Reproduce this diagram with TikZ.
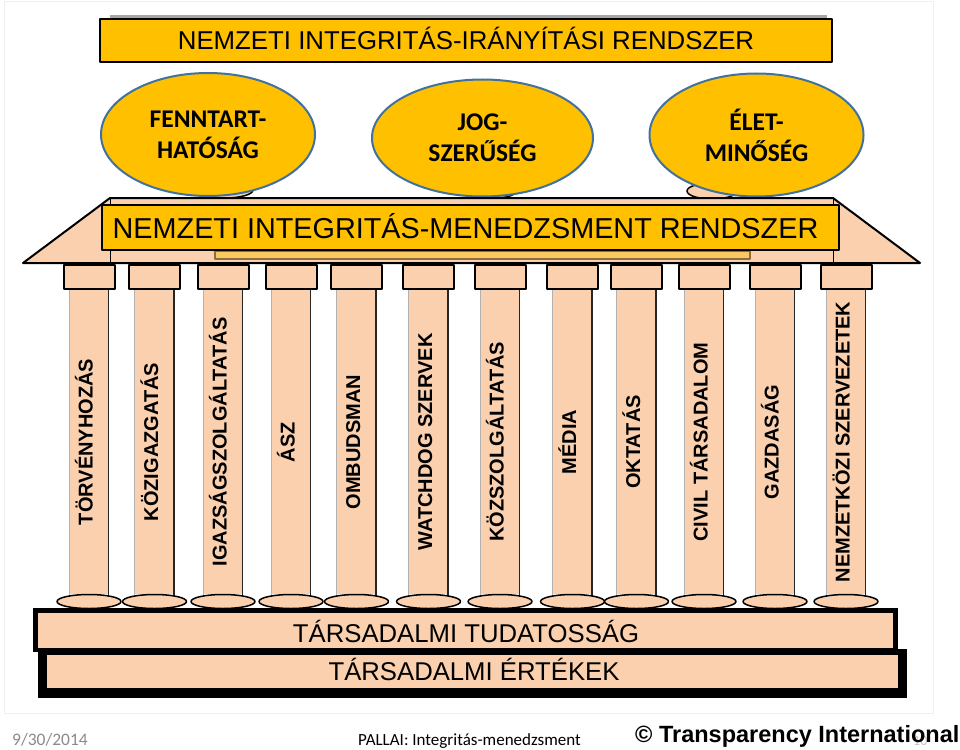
\documentclass[tikz,border=0pt]{standalone}
\usepackage{fontspec}
\setmainfont{Liberation Sans}
\newfontfamily\calibri{Carlito}
\usetikzlibrary{shapes.geometric}
\definecolor{gold}{HTML}{FFC000}
\definecolor{peach}{HTML}{FAD0AE}
\definecolor{ovalline}{HTML}{41719C}
\definecolor{framebrown}{HTML}{8C6D3F}
\definecolor{footgray}{HTML}{8A8A8A}
\tikzset{
  bannerbox/.style={draw=black, line width=2.5pt, fill=gold, inner sep=0pt},
  bannertext/.style={anchor=base, inner sep=0pt},
  ovalbox/.style={ellipse, draw=ovalline, line width=2pt, fill=gold, inner sep=0pt,
    minimum width=214pt, minimum height=123pt, align=center,
    font=\calibri\bfseries\fontsize{25.5}{31}\selectfont},
  ovalshadow/.style={fill=peach, draw=black, line width=1.5pt},
  capbox/.style={draw=black, line width=2pt, fill=peach, minimum width=51pt, minimum height=24pt, inner sep=0pt},
  shaftbox/.style={fill=peach, minimum width=39pt, minimum height=304pt, inner sep=0pt},
  basebox/.style={ellipse, draw=black, line width=1.5pt, fill=peach, minimum width=64pt, minimum height=14pt, inner sep=0pt},
  pillarlabel/.style={rotate=90, anchor=base, inner sep=0pt,
    font=\bfseries\fontsize{20}{24}\selectfont},
  plinth/.style={fill=peach, inner sep=0pt},
  plinthtext/.style={anchor=base, inner sep=0pt, font=\fontsize{25.7}{30}\selectfont},
}
\begin{document}
\begin{tikzpicture}[x=1pt, y=-1pt, line join=round]
\useasboundingbox (0,0) rectangle (960,749);
\draw[gray!12, line width=1pt] (4,2) rectangle (933,713);
% top banner
\fill[gray!70] (110,15) rectangle (827,55);
\node[bannerbox, minimum width=732pt, minimum height=43pt] (iranybox) at (466,40.5) {};
\node[bannertext, font=\fontsize{25.8}{30}\selectfont] (irany) at (466,50) {NEMZETI INTEGRITÁS-IRÁNYÍTÁSI RENDSZER};
% values
\fill[ovalshadow] (225,190) ellipse [x radius=28pt, y radius=8pt];
\fill[ovalshadow] (495,192) ellipse [x radius=20pt, y radius=6pt];
\fill[ovalshadow] (712,191) ellipse [x radius=25pt, y radius=8pt];
\node[ovalbox] (fenn) at (208,134.5) {FENNTART-\\HATÓSÁG};
\node[ovalbox, minimum width=221pt, minimum height=117pt] (jog) at (482.5,138) {JOG-\\SZERŰSÉG};
\node[ovalbox] (elet) at (756.5,135) {ÉLET-\\MINŐSÉG};
% roof
\draw[fill=peach, line width=2pt] (23,263) -- (110,198) -- (833,198) -- (920,263) -- cycle;
\draw[line width=1pt] (110,198) rectangle (833,263);
\draw[framebrown, line width=1.5pt, fill=gold!45!peach] (215,251) rectangle (750,259);
\node[bannerbox, minimum width=737pt, minimum height=45pt] (mgmtbox) at (470.5,227.5) {};
\node[bannertext, font=\fontsize{28.8}{34}\selectfont] (mgmt) at (465.5,238) {NEMZETI INTEGRITÁS-MENEDZSMENT RENDSZER};
% pillars
\foreach \cx/\txt [count=\i] in {89/TÖRVÉNYHOZÁS, 154.5/KÖZIGAZGATÁS, 223/IGAZSÁGSZOLGÁLTATÁS,
    291/ÁSZ, 356.5/OMBUDSMAN, 428.5/WATCHDOG SZERVEK, 500/KÖZSZOLGÁLTATÁS, 572.5/MÉDIA,
    636.5/OKTATÁS, 704/CIVIL TÁRSADALOM, 775/GAZDASÁG, 846/NEMZETKÖZI SZERVEZETEK}{
  \node[shaftbox] (shaft\i) at (\cx,442) {};
  \draw[gray!60, line width=0.8pt] (shaft\i.north west) -- ([yshift=-2pt]shaft\i.south west);
  \draw[black!85, line width=1.5pt] (shaft\i.north east) -- ([yshift=-2pt]shaft\i.south east);
  \node[capbox] (cap\i) at (\cx,277) {};
  \node[basebox] (base\i) at (\cx,601.5) {};
  \node[pillarlabel] (lab\i) at (\cx+3.7,442) {\txt};
}
% foundation
\fill[black] (33,608) rectangle (898,652);
\fill[black] (38,649) rectangle (907,698);
\node[plinth, minimum width=855pt, minimum height=35pt] (tudat) at (465.5,630.5) {};
\node[plinthtext] (tudattext) at (466,642) {TÁRSADALMI TUDATOSSÁG};
\node[plinth, minimum width=851pt, minimum height=33pt] (ertek) at (472.5,671.5) {};
\node[plinthtext] (ertektext) at (474,680) {TÁRSADALMI ÉRTÉKEK};
% footer
\node[anchor=base west, inner sep=0pt, text=footgray, font=\calibri\fontsize{17.5}{20}\selectfont] (datum) at (12,745) {9/30/2014};
\node[anchor=base west, inner sep=0pt, font=\calibri\fontsize{17}{20}\selectfont] (pallai) at (358,745) {PALLAI: Integritás-menedzsment};
\node[anchor=base west, inner sep=0pt, text=gray!45, font=\calibri\fontsize{14}{16}\selectfont] (oldal) at (913,745) {10};
\node[anchor=base west, inner sep=0pt, font=\bfseries\fontsize{23.5}{26}\selectfont] (ti) at (635,742) {©\ Transparency International};
\end{tikzpicture}
\end{document}
